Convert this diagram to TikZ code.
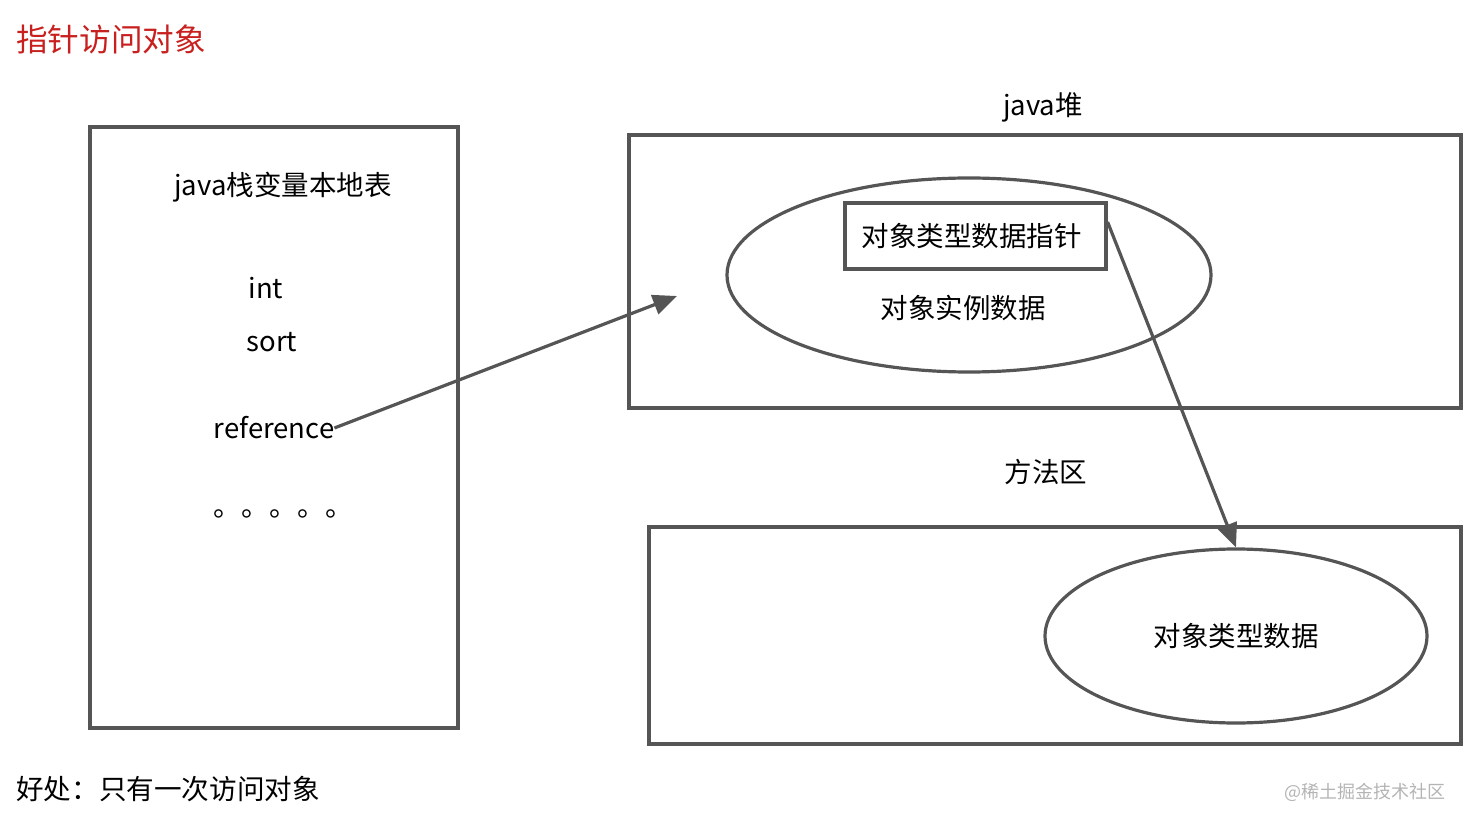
\documentclass[tikz,border=0pt]{standalone}
\usepackage{fontspec}
\setmainfont{Noto Sans CJK SC}
\usetikzlibrary{arrows.meta,shapes.geometric}
\definecolor{edge}{HTML}{555555}
\definecolor{titlered}{HTML}{C8201E}
\definecolor{wm}{HTML}{B4B4B4}
\begin{document}
\begin{tikzpicture}[x=1pt,y=1pt,
  box/.style={draw=edge,line width=3.2pt},
  lbl/.style={inner sep=0pt,font=\fontsize{27.5}{32}\selectfont,text=black},
  conn/.style={draw=edge,line width=3.2pt,-{Triangle[length=24pt,width=20pt]}}]
\useasboundingbox (0,0) rectangle (1470,-826);
% title
\node[anchor=west,inner sep=0pt,text=titlered,font=\fontsize{31.6}{37}\selectfont] (title) at (16,-39) {指针访问对象};
% left stack box
\draw[box] (90,-127) rectangle (458,-728);
\node[lbl] (stk) at (283,-187) {java栈变量本地表};
\node[lbl] (int) at (266,-288) {int};
\node[lbl] (sort) at (272,-342) {sort};
\node[lbl] (ref) at (274,-428) {reference};
\node[lbl,font=\fontsize{28}{30}\selectfont] (dots) at (283,-514) {。。。。。};
% heap
\node[lbl] (heaplbl) at (1043,-107) {java堆};
\draw[box] (629,-135) rectangle (1461,-408);
\draw[box] (969,-275) ellipse [x radius=242, y radius=97];
\node[lbl,draw=edge,line width=3.2pt,minimum width=261pt,minimum height=66pt] (ptr) at (975.5,-236) {\hspace*{-8pt}对象类型数据指针};
\node[lbl] (inst) at (963,-308) {对象实例数据};
% method area
\node[lbl] (mlbl) at (1046,-472) {方法区};
\draw[box] (649,-527) rectangle (1461,-744);
\node[lbl,draw=edge,line width=3.2pt,ellipse,minimum width=382pt,minimum height=174pt] (type) at (1236,-636) {对象类型数据};
% connectors
\coordinate (heaptarget) at (677,-296);
\draw[conn] (ref.east) -- (heaptarget);
\path (ptr.east) ++(0,14) coordinate (ptrstart);
\draw[conn] (ptrstart) -- (type.north);
% footer
\node[anchor=west,inner sep=0pt,font=\fontsize{27.6}{32}\selectfont] (benefit) at (16,-789) {好处：只有一次访问对象};
\node[anchor=east,inner sep=0pt,text=wm,font=\fontsize{18}{22}\selectfont] (wmark) at (1446,-792) {@稀土掘金技术社区};
\end{tikzpicture}
\end{document}
